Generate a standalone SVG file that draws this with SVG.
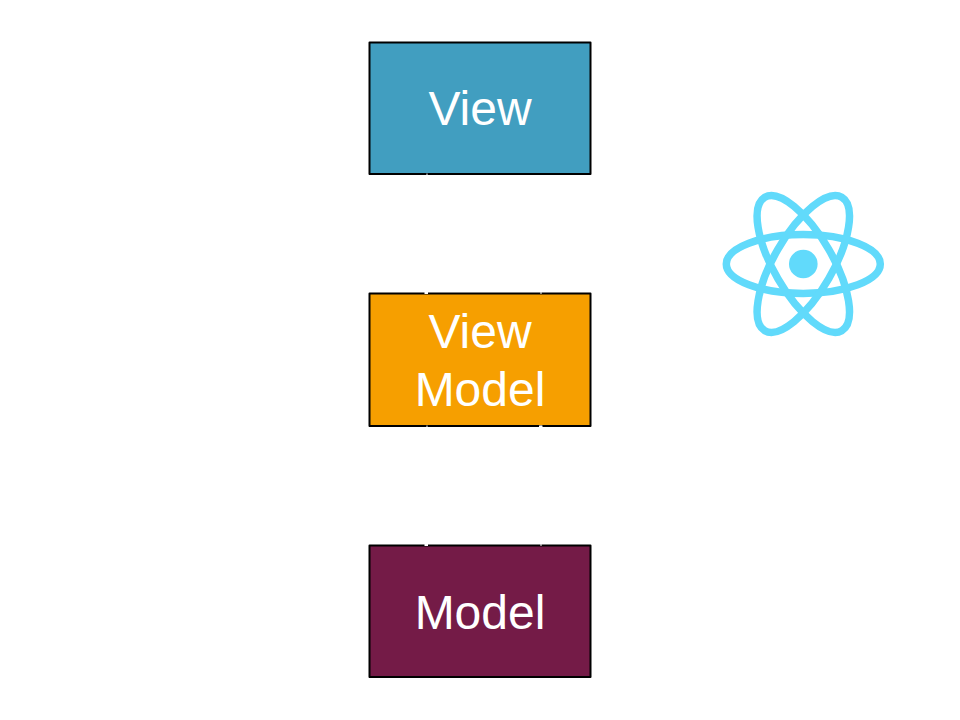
<svg xmlns="http://www.w3.org/2000/svg" width="960" height="720" viewBox="0 0 960 720">
<style>
.box{stroke:#000;stroke-width:2;stroke-linejoin:round}
.lbl{font-family:"Liberation Sans",Arial,sans-serif;font-size:48px;fill:#fff;text-anchor:middle}
.orbit{fill:none;stroke:#61dafb;stroke-width:7.500}
.wire{stroke:#fff;stroke-width:1;fill:none}
.tip{fill:#fff}
</style>
<rect width="960" height="720" fill="#fff"/>
<g id="node-view"><rect class="box" x="369.500" y="42.500" width="221" height="131.500" fill="#419ec0"/><text class="lbl" x="480" y="125">View</text></g>
<g id="node-viewmodel"><rect class="box" x="369.500" y="293.500" width="221" height="132.500" fill="#f69f00"/><text class="lbl" x="480" y="348">View</text><text class="lbl" x="480" y="406">Model</text></g>
<g id="node-model"><rect class="box" x="369.500" y="545.500" width="221" height="131.500" fill="#741b47"/><text class="lbl" x="480" y="629">Model</text></g>
<g id="connectors">
<path class="wire" d="M427 173.500V292M541 292V294M427 425.500V544M541 425.500V546"/>
<rect class="tip" x="424.500" y="292" width="3.500" height="2"/>
<rect class="tip" x="424.500" y="544" width="3.500" height="2"/>
<rect class="tip" x="539" y="425.500" width="3.500" height="1.500"/>
</g>
<g id="react-logo">
<circle cx="803.300" cy="264" r="14.300" fill="#61dafb"/>
<ellipse class="orbit" cx="803.300" cy="264" rx="77" ry="29.400"/>
<ellipse class="orbit" cx="803.300" cy="264" rx="77" ry="29.400" transform="rotate(60 803.300 264)"/>
<ellipse class="orbit" cx="803.300" cy="264" rx="77" ry="29.400" transform="rotate(120 803.300 264)"/>
</g>
</svg>
